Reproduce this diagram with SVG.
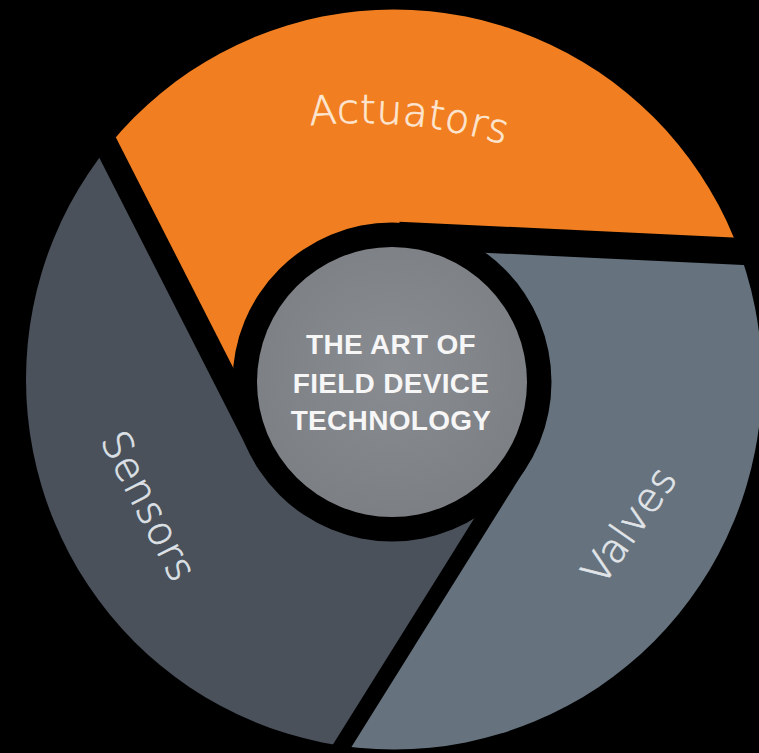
<svg xmlns="http://www.w3.org/2000/svg" width="759" height="753" viewBox="0 0 759 753">
<defs>
<clipPath id="outer"><ellipse cx="394" cy="379.5" rx="368" ry="370"/></clipPath>
<path id="arcA" d="M 274.9 130.4 A 490 490 0 0 1 567.1 168.9" fill="none"/>
<radialGradient id="hubfill" cx="50%" cy="45%" r="55%"><stop offset="0" stop-color="#898c91"/><stop offset="1" stop-color="#7c7f84"/></radialGradient>
<style>
.label{font-family:"DejaVu Sans","Liberation Sans",Arial,sans-serif;font-weight:200;font-size:40px;letter-spacing:0.6px;text-anchor:middle;stroke-width:0.7px;}
.gap{stroke:#000;fill:none;stroke-linecap:butt;}
.hubtxt{font-family:"Liberation Sans",Arial,sans-serif;font-weight:bold;font-size:28px;fill:#f6f6f6;text-anchor:middle;letter-spacing:0.3px;}
</style>
</defs>
<rect width="759" height="753" fill="#000"/>
<g id="actuators">
<path clip-path="url(#outer)" fill="#f17f21" d="M392 382 L261.0 448.7 L-102.2 -264.1 L400 -900 L1198.0 272.9 L398.9 235.2 Z"/>
<text class="label" font-size="38" letter-spacing="0.5" fill="#fde6d2" stroke="#fde6d2"><textPath href="#arcA" startOffset="134">Actuators</textPath></text>
</g>
<g id="sensors">
<path clip-path="url(#outer)" fill="#4a515b" d="M392 382 L519.6 461.8 L95.7 1140.2 L-800 500 L-102.2 -264.1 L261.0 448.7 Z"/>
<text class="label" fill="#dde1e6" stroke="#dde1e6" transform="translate(149 506) rotate(63)" dy="14">Sensors</text>
</g>
<g id="valves">
<path clip-path="url(#outer)" fill="#66737f" d="M392 382 L398.9 235.2 L1198.0 272.9 L1100 1100 L95.7 1140.2 L519.6 461.8 Z"/>
<text class="label" fill="#e1e5e9" stroke="#e1e5e9" transform="translate(629 525) rotate(-55)" dy="14">Valves</text>
</g>
<g id="connectors">
<line class="gap" x1="261.0" y1="448.7" x2="-11.4" y2="-85.9" stroke-width="24"/>
<line class="gap" x1="398.9" y1="235.2" x2="998.2" y2="263.5" stroke-width="27"/>
<line class="gap" x1="519.6" y1="461.8" x2="201.7" y2="970.6" stroke-width="17"/>
</g>
<g id="hub">
<circle cx="392" cy="382" r="159.5" fill="#000"/>
<circle cx="392" cy="382" r="135" fill="url(#hubfill)"/>
<text class="hubtxt" x="391" y="354">THE ART OF</text>
<text class="hubtxt" x="391" y="393">FIELD DEVICE</text>
<text class="hubtxt" x="391" y="430">TECHNOLOGY</text>
</g>
</svg>
